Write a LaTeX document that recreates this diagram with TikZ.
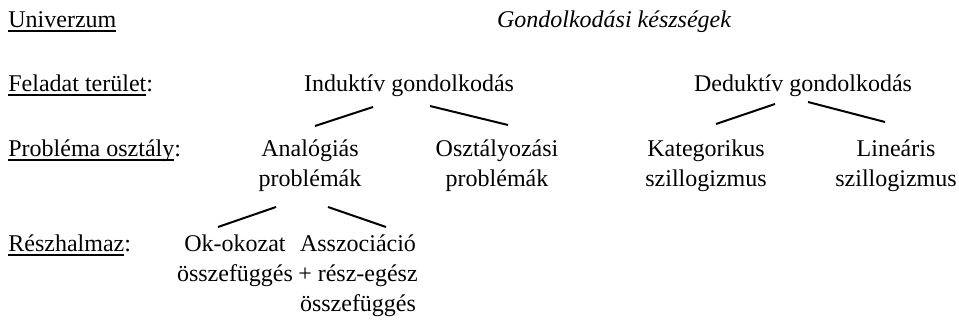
\documentclass[tikz,border=0pt]{standalone}
\usepackage{fontspec}
\setmainfont{Liberation Serif}
\usetikzlibrary{calc}
\newcommand{\ulword}[1]{\leavevmode\setbox0\hbox{#1}\rlap{\rule[-1.9pt]{\wd0}{0.9pt}}\box0}

\begin{document}
\begin{tikzpicture}[
  x=0.5pt,y=-0.5pt,
  font=\fontsize{12}{15}\selectfont,
  level/.style={anchor=base west,inner sep=0pt},
  item/.style={anchor=base,inner sep=0pt,align=center},
  link/.style={line width=1pt,draw=black}
]
\useasboundingbox (0,0) rectangle (959,320);

\node[level] (univ) at (8,28) {\ulword{Univerzum}};
\node[item,font=\fontsize{12}{15}\selectfont\itshape] (title) at (614,28) {Gondolkodási készségek};

\node[level] (terulet) at (8,92) {\ulword{Feladat terület}:};
\node[item] (induk) at (409,92) {Induktív gondolkodás};
\node[item] (deduk) at (803,92) {Deduktív gondolkodás};

\node[level] (osztalylab) at (8,157) {\ulword{Probléma osztály}:};
\node[item] (analog) at (310,187) {Analógiás\\problémák};
\node[item] (osztaly) at (497,187) {Osztályozási\\problémák};
\node[item] (kateg) at (706,187) {Kategorikus\\szillogizmus};
\node[item] (linear) at (896,187) {Lineáris\\szillogizmus};

\node[level] (reszlab) at (8,252) {\ulword{Részhalmaz}:};
\node[item] (okok) at (235,282) {Ok-okozat\\összefüggés};
\node[item] (asszoc) at (358,312) {Asszociáció\\+ rész-egész\\összefüggés};

\draw[link] ($(induk.base)+(-36,15)$) -- ($(analog.base)+(5,-61)$);
\draw[link] ($(induk.base)+(21,14)$) -- ($(osztaly.base)+(11,-62)$);
\draw[link] ($(deduk.base)+(-28,12)$) -- ($(kateg.base)+(10,-63)$);
\draw[link] ($(deduk.base)+(5,10)$) -- ($(linear.base)+(-11,-65)$);
\draw[link] ($(analog.base)+(-34,20)$) -- ($(okok.base)+(-17,-55)$);
\draw[link] ($(analog.base)+(18,20)$) -- ($(asszoc.base)+(28,-85)$);

\end{tikzpicture}
\end{document}
